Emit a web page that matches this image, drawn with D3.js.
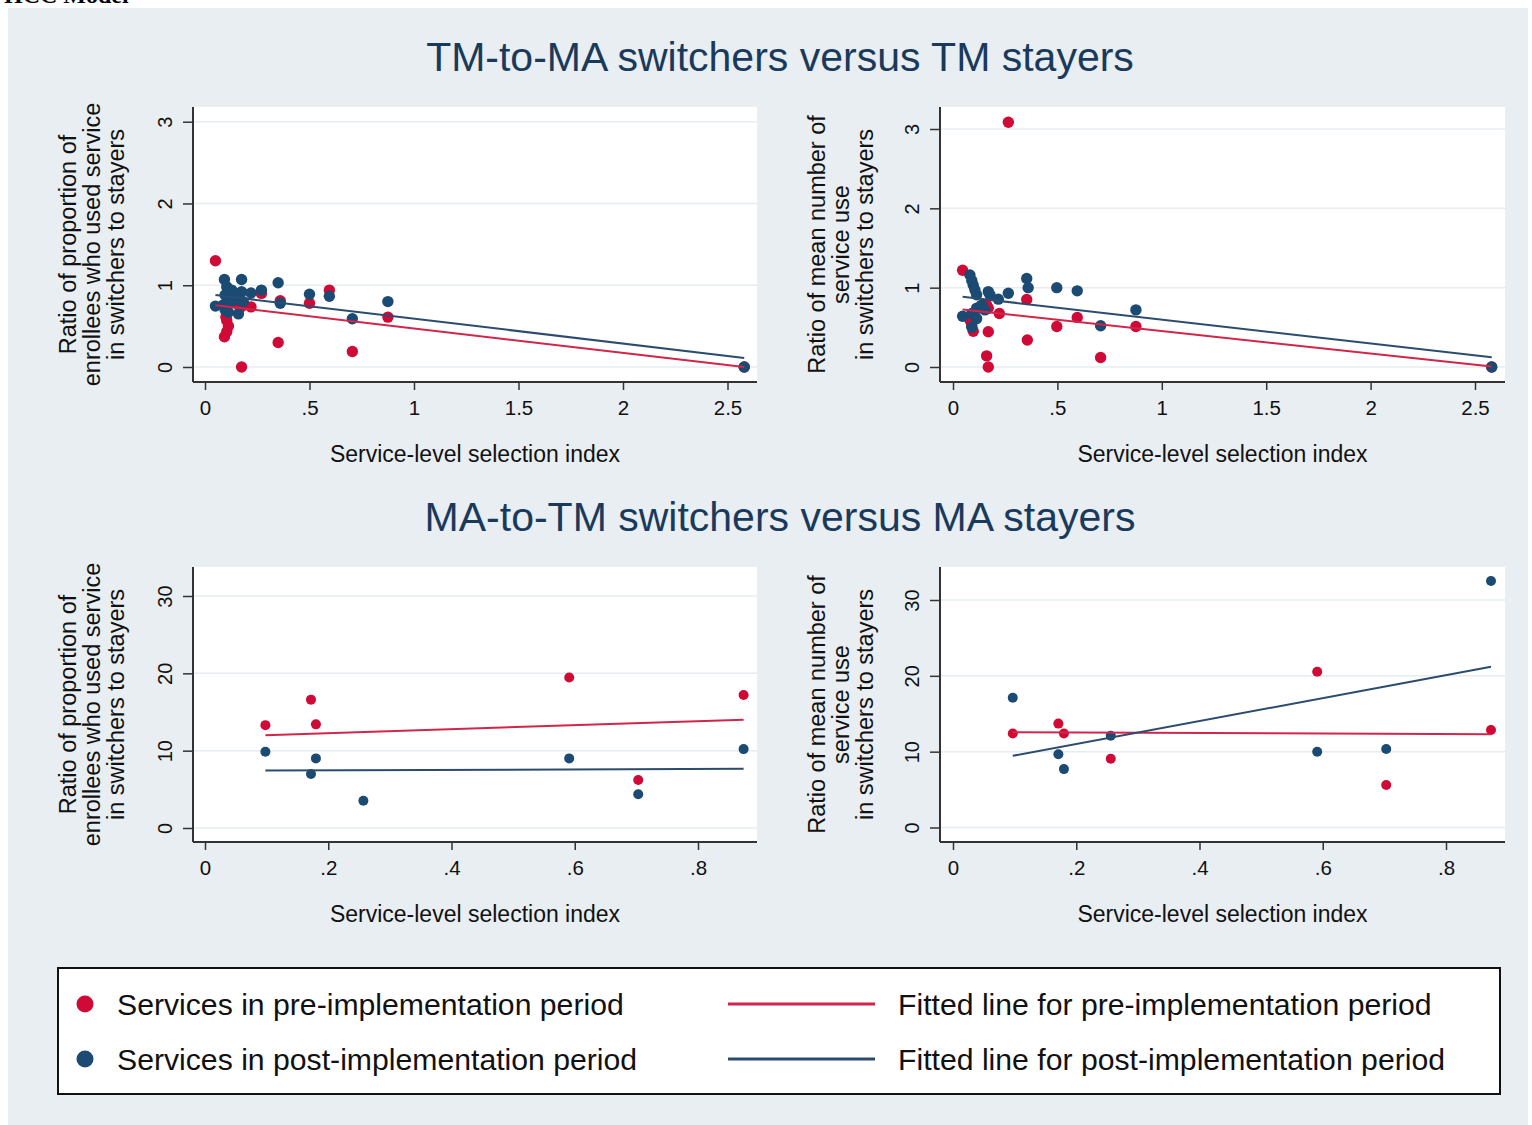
<!DOCTYPE html>
<html>
<head>
<meta charset="utf-8">
<script src="https://cdn.jsdelivr.net/npm/d3@7"></script>
<style>
  body { margin: 0; background: #fff; }
  text { font-family: "Liberation Sans", Arial, sans-serif; }
</style>
</head>
<body>
<div id="chart"></div>
<script>
// Parameters
const svg_w = 1532;
const svg_h = 1125;
const red = "#cf0a36";
const blue = "#1b4a72";
const redLine = "#d2254a";
const blueLine = "#2b4c6e";

// Data: [selection index, ratio]
// TM-to-MA, proportion of enrollees
const tlPre = [[0.05,1.30],[0.175,0.0],[0.35,0.30],[0.093,0.37],[0.104,0.43],[0.112,0.50],
  [0.104,0.57],[0.10,0.61],[0.22,0.735],[0.16,0.80],[0.144,0.82],[0.16,0.76],[0.175,0.74],
  [0.36,0.81],[0.50,0.78],[0.595,0.94],[0.705,0.19],[0.875,0.61],[0.27,0.90],[2.58,0.0]];
const tlPost = [[0.05,0.745],[0.093,1.07],[0.175,1.07],[0.104,0.98],[0.128,0.94],[0.144,0.90],
  [0.175,0.92],[0.096,0.88],[0.112,0.84],[0.152,0.86],[0.167,0.82],[0.088,0.76],[0.104,0.74],
  [0.128,0.80],[0.096,0.70],[0.112,0.67],[0.183,0.80],[0.16,0.65],[0.22,0.905],[0.27,0.94],
  [0.35,1.03],[0.36,0.78],[0.50,0.89],[0.595,0.865],[0.705,0.59],[0.875,0.80],[2.58,0.0]];
// TM-to-MA, mean number of service use
const trPre = [[0.046,1.22],[0.265,3.085],[0.353,0.85],[0.222,0.675],[0.595,0.625],[0.497,0.51],
  [0.876,0.51],[0.356,0.34],[0.707,0.12],[0.161,0.14],[0.169,0.0],[0.169,0.445],[0.097,0.45],
  [0.081,0.59],[0.105,0.63],[0.09,0.53],[0.161,0.78],[0.169,0.74],[0.121,0.74],[2.58,0.0]];
const trPost = [[0.081,1.16],[0.09,1.09],[0.097,1.03],[0.105,0.97],[0.113,0.91],[0.169,0.95],
  [0.177,0.91],[0.265,0.93],[0.217,0.855],[0.353,1.115],[0.36,1.0],[0.497,1.0],[0.595,0.96],
  [0.876,0.72],[0.707,0.52],[0.046,0.64],[0.09,0.50],[0.09,0.675],[0.113,0.74],[0.137,0.78],
  [0.153,0.72],[0.113,0.61],[2.58,0.0]];
// MA-to-TM, proportion of enrollees
const blPre = [[0.098,13.3],[0.172,16.6],[0.18,13.4],[0.591,19.45],[0.703,6.2],[0.874,17.2]];
const blPost = [[0.098,9.87],[0.18,9.0],[0.172,6.99],[0.257,3.53],[0.591,9.0],[0.703,4.36],[0.874,10.2]];
// MA-to-TM, mean number of service use
const brPre = [[0.097,12.4],[0.171,13.7],[0.18,12.4],[0.256,9.07],[0.591,20.55],[0.703,5.6],[0.873,12.85]];
const brPost = [[0.097,17.1],[0.171,9.65],[0.18,7.7],[0.256,12.1],[0.591,10.0],[0.703,10.35],[0.873,32.5]];

// Fitted line end points
const tlFitPre = [[0.05,0.755],[2.58,0.0]];
const tlFitPost = [[0.05,0.88],[2.58,0.11]];
const trFitPre = [[0.046,0.725],[2.58,0.005]];
const trFitPost = [[0.046,0.885],[2.58,0.123]];
const blFitPre = [[0.098,12.0],[0.874,14.0]];
const blFitPost = [[0.098,7.42],[0.874,7.67]];
const brFitPre = [[0.097,12.55],[0.873,12.3]];
const brFitPost = [[0.097,9.45],[0.873,21.2]];

// Ticks and labels
const xTicksTop = [0, 0.5, 1, 1.5, 2, 2.5];
const xTicksBottom = [0, 0.2, 0.4, 0.6, 0.8];
const yTicksTop = [0, 1, 2, 3];
const yTicksBottom = [0, 10, 20, 30];
const titles = ["TM-to-MA switchers versus TM stayers", "MA-to-TM switchers versus MA stayers"];
const xTitle = "Service-level selection index";
const yTitleProp = ["Ratio of proportion of", "enrollees who used service", "in switchers to stayers"];
const yTitleMean = ["Ratio of mean number of", "service use", "in switchers to stayers"];
const legendItems = ["Services in pre-implementation period", "Services in post-implementation period",
  "Fitted line for pre-implementation period", "Fitted line for post-implementation period"];

const svg = d3.select("#chart").append("svg")
  .attr("width", svg_w)
  .attr("height", svg_h);

// clipped header from the page above
svg.append("text")
  .attr("x", 4).attr("y", 3)
  .style("font-family", "'Liberation Serif', serif")
  .style("font-weight", "bold")
  .style("font-size", "24px")
  .text("HCC Model");

svg.append("rect")
  .attr("x", 8).attr("y", 8)
  .attr("width", 1520).attr("height", svg_h - 8)
  .attr("fill", "#e8eef2");

const fmt = d => d3.format("~g")(d).replace(/^0\./, ".");

function drawPanel(p) {
  const g = svg.append("g");
  const [bx0, by0, bx1, by1] = p.box;
  const x = d3.scaleLinear().domain(p.xDom).range(p.xRange);
  const y = d3.scaleLinear().domain(p.yDom).range(p.yRange);

  g.append("rect")
    .attr("x", bx0).attr("y", by0)
    .attr("width", bx1 - bx0).attr("height", by1 - by0)
    .attr("fill", "#fff");

  g.selectAll("line.grid")
    .data(p.yTicks)
    .join("line")
      .attr("class", "grid")
      .attr("x1", bx0).attr("x2", bx1)
      .attr("y1", d => y(d)).attr("y2", d => y(d))
      .attr("stroke", "#e6ecf0")
      .attr("stroke-width", 1.5);

  const dots = [[p.pre, red], [p.post, blue]];
  dots.forEach(([data, col]) => {
    g.append("g").selectAll("circle")
      .data(data)
      .join("circle")
        .attr("cx", d => x(d[0]))
        .attr("cy", d => y(d[1]))
        .attr("r", p.r)
        .attr("fill", col);
  });

  const line = d3.line().x(d => x(d[0])).y(d => y(d[1]));
  g.append("path").attr("d", line(p.fitPre))
    .attr("fill", "none").attr("stroke", redLine).attr("stroke-width", 2);
  g.append("path").attr("d", line(p.fitPost))
    .attr("fill", "none").attr("stroke", blueLine).attr("stroke-width", 2);

  // y axis
  const ya = g.append("g")
    .attr("transform", `translate(${bx0},0)`)
    .call(d3.axisLeft(y).tickValues(p.yTicks).tickSize(10).tickSizeOuter(0).tickFormat(fmt));
  ya.select(".domain").remove();
  ya.selectAll(".tick line").attr("stroke", "#333").attr("stroke-width", 1.5);
  ya.selectAll(".tick text")
    .attr("x", null).attr("dy", null)
    .attr("transform", "translate(-28,0) rotate(-90)")
    .attr("text-anchor", "middle")
    .attr("dominant-baseline", "central")
    .attr("fill", "#111")
    .style("font-size", "20px");
  g.append("line")
    .attr("x1", bx0).attr("x2", bx0).attr("y1", by0).attr("y2", by1)
    .attr("stroke", "#333").attr("stroke-width", 2);

  // x axis
  const xa = g.append("g")
    .attr("transform", `translate(0,${by1})`)
    .call(d3.axisBottom(x).tickValues(p.xTicks).tickSize(8).tickPadding(10).tickSizeOuter(0).tickFormat(fmt));
  xa.select(".domain").remove();
  xa.selectAll(".tick line").attr("stroke", "#333").attr("stroke-width", 1.5);
  xa.selectAll(".tick text").attr("fill", "#111").style("font-size", "20.5px");
  g.append("line")
    .attr("x1", bx0).attr("x2", bx1).attr("y1", by1).attr("y2", by1)
    .attr("stroke", "#333").attr("stroke-width", 2);

  g.append("text")
    .attr("x", (bx0 + bx1) / 2)
    .attr("y", by1 + 80)
    .attr("text-anchor", "middle")
    .attr("fill", "#111")
    .style("font-size", "23px")
    .text(xTitle);

  const midY = (by0 + by1) / 2;
  p.yTitle.forEach((t, i) => {
    g.append("text")
      .attr("transform", `translate(${p.yTitleX + i * 24},${midY}) rotate(-90)`)
      .attr("text-anchor", "middle")
      .attr("dominant-baseline", "central")
      .attr("fill", "#111")
      .style("font-size", "23.5px")
      .text(t);
  });
}

drawPanel({box: [193, 107, 757, 382], xDom: [0, 2.5], xRange: [205, 727.5], yDom: [0, 3], yRange: [367, 121.7],
  xTicks: xTicksTop, yTicks: yTicksTop, pre: tlPre, post: tlPost, fitPre: tlFitPre, fitPost: tlFitPost,
  r: 5.7, yTitle: yTitleProp, yTitleX: 68});
drawPanel({box: [940, 107, 1505, 382], xDom: [0, 2.5], xRange: [953, 1475], yDom: [0, 3], yRange: [367, 129],
  xTicks: xTicksTop, yTicks: yTicksTop, pre: trPre, post: trPost, fitPre: trFitPre, fitPost: trFitPost,
  r: 5.7, yTitle: yTitleMean, yTitleX: 817});
drawPanel({box: [193, 567, 757, 842], xDom: [0, 0.8], xRange: [205, 698], yDom: [0, 30], yRange: [828, 596],
  xTicks: xTicksBottom, yTicks: yTicksBottom, pre: blPre, post: blPost, fitPre: blFitPre, fitPost: blFitPost,
  r: 5, yTitle: yTitleProp, yTitleX: 68});
drawPanel({box: [940, 567, 1505, 842], xDom: [0, 0.8], xRange: [953, 1446], yDom: [0, 30], yRange: [827.5, 600],
  xTicks: xTicksBottom, yTicks: yTicksBottom, pre: brPre, post: brPost, fitPre: brFitPre, fitPost: brFitPost,
  r: 5, yTitle: yTitleMean, yTitleX: 817});

// section titles
svg.selectAll("text.title")
  .data(titles)
  .join("text")
    .attr("class", "title")
    .attr("x", 780)
    .attr("y", (d, i) => 71 + i * 460)
    .attr("text-anchor", "middle")
    .attr("fill", "#1a3a5c")
    .style("font-size", "41px")
    .text(d => d);

// legend
const leg = svg.append("g");
leg.append("rect")
  .attr("x", 58).attr("y", 968)
  .attr("width", 1442).attr("height", 126)
  .attr("fill", "#fff")
  .attr("stroke", "#111")
  .attr("stroke-width", 2);
[red, blue].forEach((c, i) => {
  leg.append("circle").attr("cx", 85).attr("cy", 1004 + i * 55).attr("r", 8.5).attr("fill", c);
  leg.append("text").attr("x", 117).attr("y", 1015 + i * 55)
    .style("font-size", "30.2px").attr("fill", "#111").text(legendItems[i]);
});
[redLine, blueLine].forEach((c, i) => {
  leg.append("line").attr("x1", 728).attr("x2", 875)
    .attr("y1", 1004 + i * 55).attr("y2", 1004 + i * 55)
    .attr("stroke", c).attr("stroke-width", 3);
  leg.append("text").attr("x", 898).attr("y", 1015 + i * 55)
    .style("font-size", "30.2px").attr("fill", "#111").text(legendItems[i + 2]);
});
</script>
</body>
</html>
